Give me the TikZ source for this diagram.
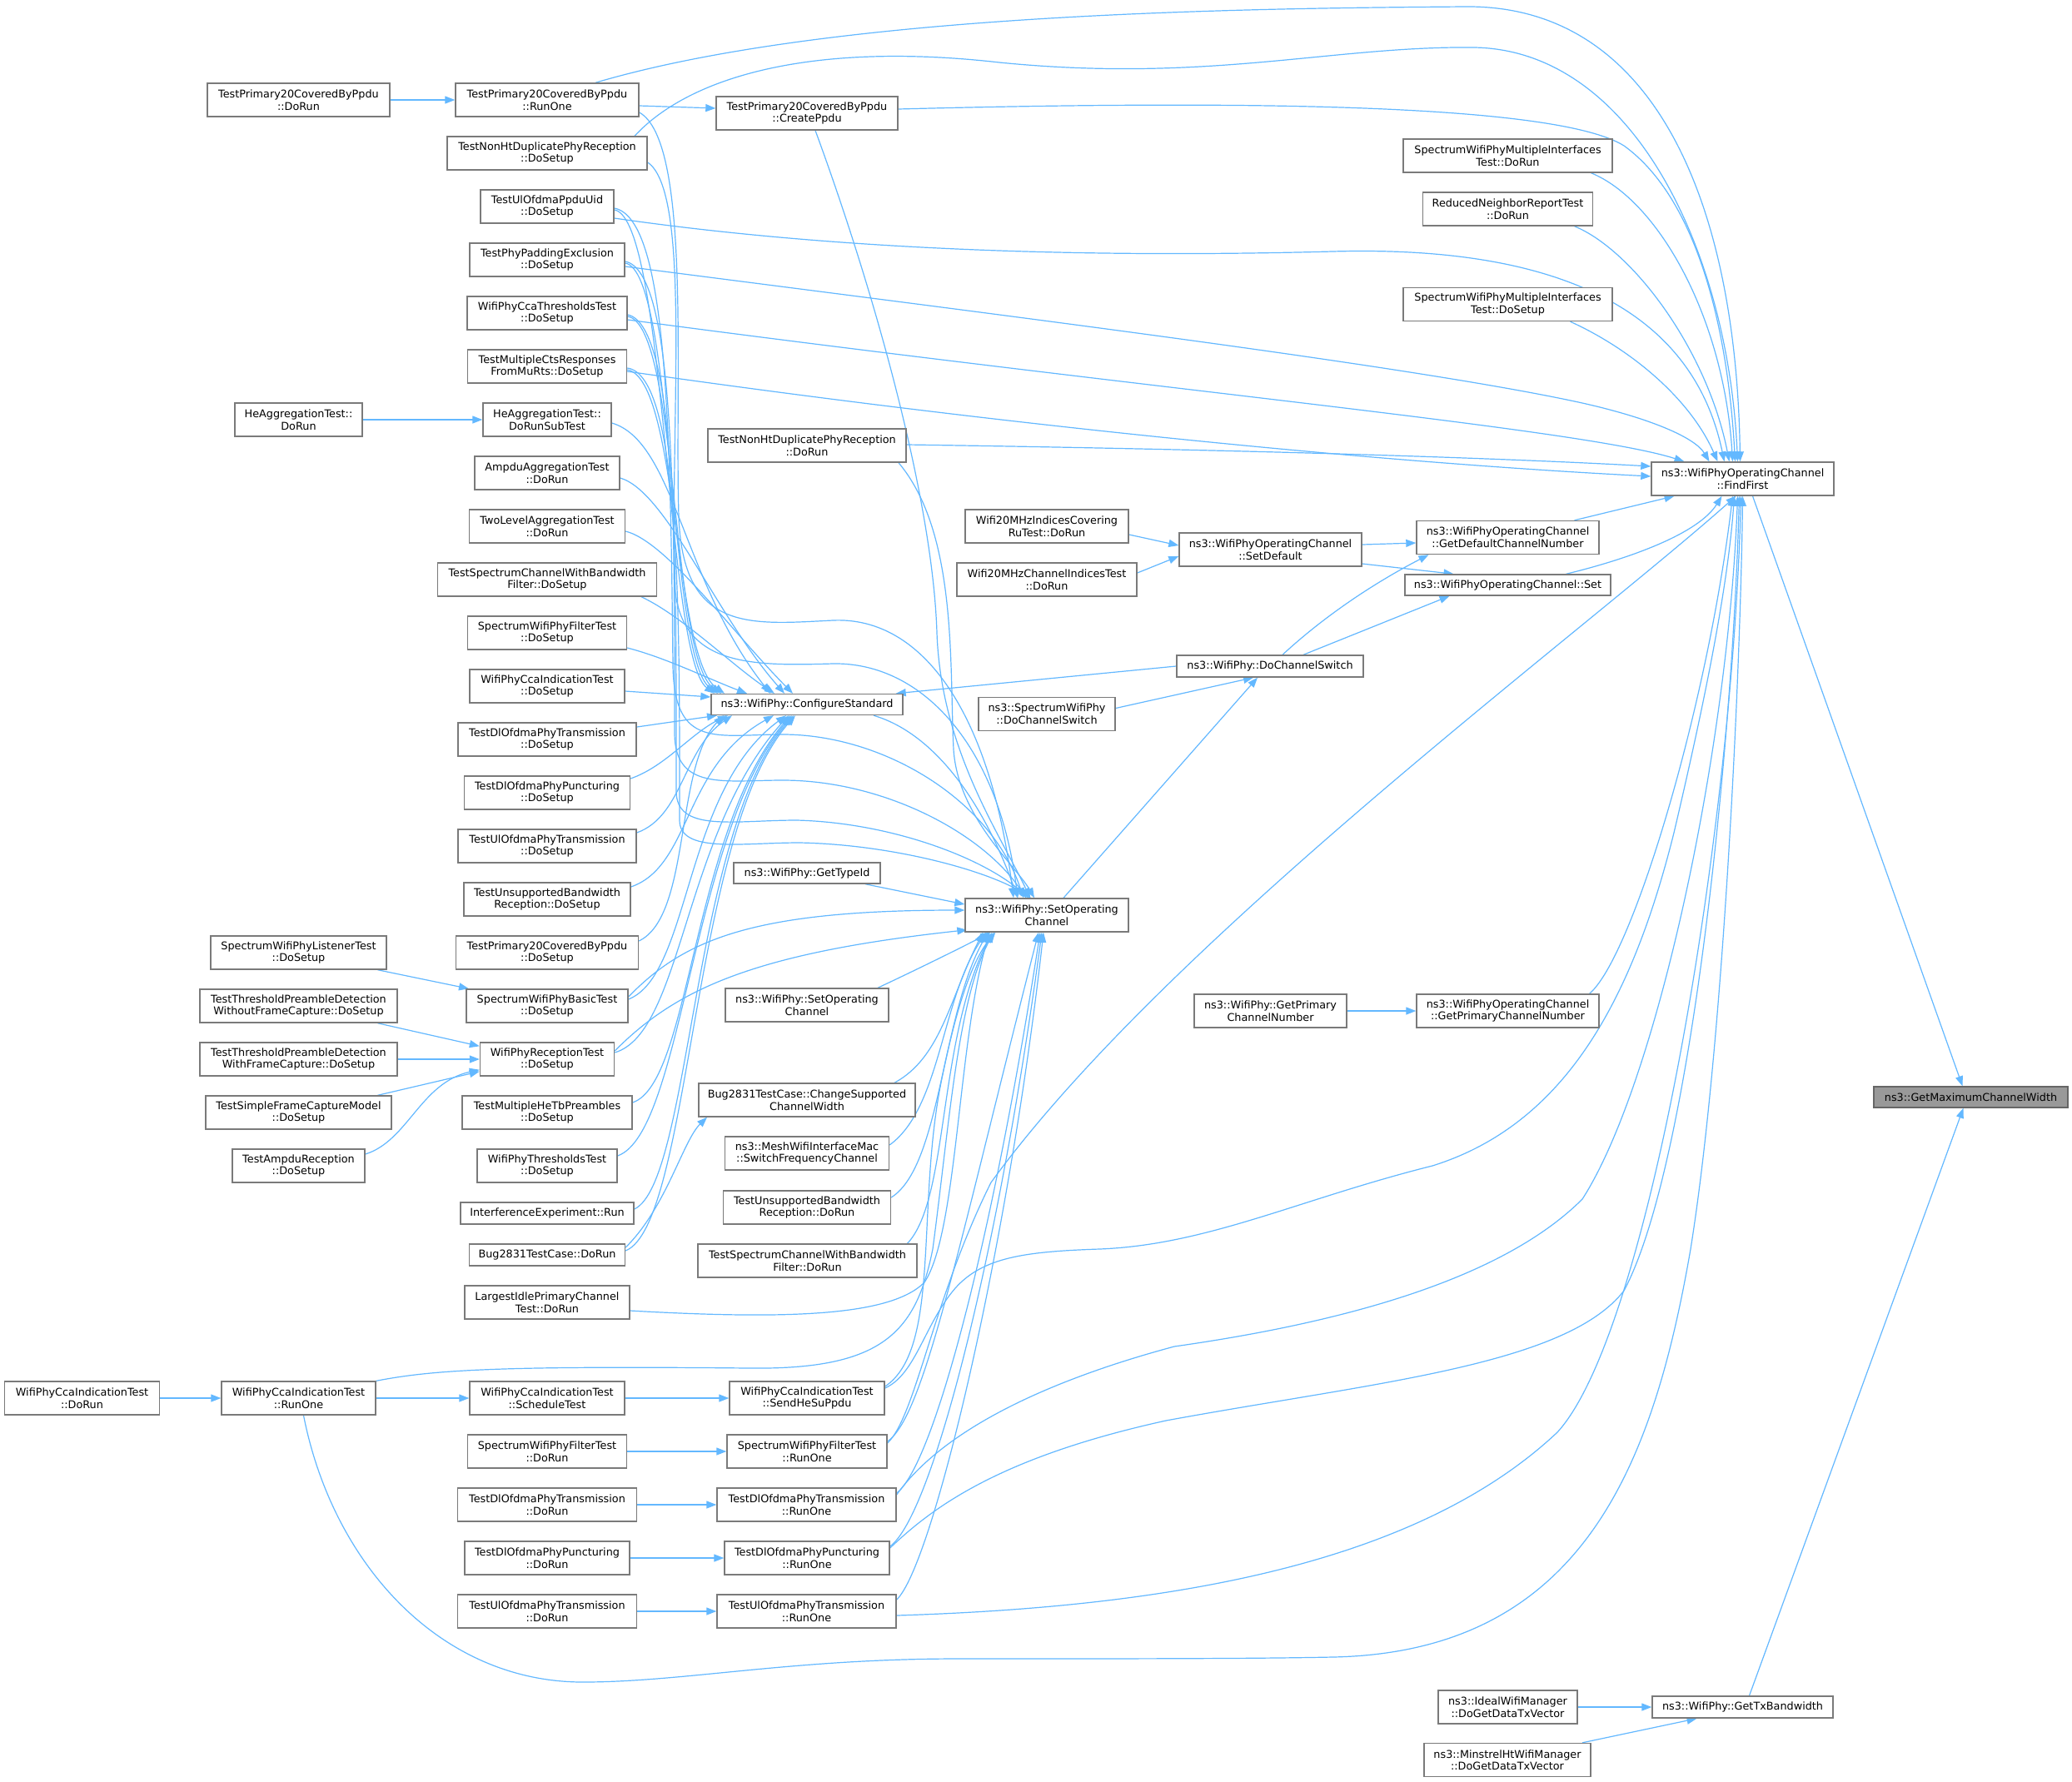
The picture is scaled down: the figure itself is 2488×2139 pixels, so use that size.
\documentclass[tikz,border=0pt]{standalone}
\usepackage{fontspec}
\setmainfont{DejaVu Sans}
\usetikzlibrary{arrows.meta,backgrounds}
\definecolor{edgec}{HTML}{63B8FF}
\definecolor{boxc}{HTML}{7A7A7A}
\definecolor{tgtfill}{HTML}{999999}
\definecolor{tgtdraw}{HTML}{666666}
\tikzset{
  box/.style={draw=boxc, fill=white, line width=1.4pt, inner sep=0pt, align=center,
    minimum height=40pt, font=\fontsize{12.8pt}{14.6pt}\selectfont},
  one/.style={minimum height=26pt},
  tgt/.style={fill=tgtfill, draw=tgtdraw},
  e/.style={draw=edgec, line width=1.2pt, -{Triangle[length=12pt,width=9pt]}}
}
\begin{document}
\begin{tikzpicture}[x=1pt,y=-1pt]
\useasboundingbox (0,0) rectangle (2488,2139);
% ---- column A / B
\node[box,minimum width=186pt] (ccaDoRun) at (98.5,1679) {WifiPhyCcaIndicationTest\\::DoRun};
\node[box,minimum width=219pt] (tp20DoRun) at (358.5,120) {TestPrimary20CoveredByPpdu\\::DoRun};
\node[box,minimum width=153pt] (heDoRun) at (358.5,504) {HeAggregationTest::\\DoRun};
\node[box,minimum width=211pt] (listener) at (358.5,1144) {SpectrumWifiPhyListenerTest\\::DoSetup};
\node[box,minimum width=237pt] (tpdWithout) at (358.5,1208) {TestThresholdPreambleDetection\\WithoutFrameCapture::DoSetup};
\node[box,minimum width=237pt] (tpdWith) at (358.5,1272) {TestThresholdPreambleDetection\\WithFrameCapture::DoSetup};
\node[box,minimum width=223pt] (simple) at (358.5,1336) {TestSimpleFrameCaptureModel\\::DoSetup};
\node[box,minimum width=159pt] (ampduRx) at (358.5,1400) {TestAmpduReception\\::DoSetup};
\node[box,minimum width=185pt] (ccaRunOne) at (358.5,1679) {WifiPhyCcaIndicationTest\\::RunOne};
% ---- column C
\node[box,minimum width=220pt] (tp20RunOne) at (657,120) {TestPrimary20CoveredByPpdu\\::RunOne};
\node[box,minimum width=240pt] (nonHtSetup) at (657,184) {TestNonHtDuplicatePhyReception\\::DoSetup};
\node[box,minimum width=160pt] (ulPpduUid) at (657,248) {TestUlOfdmaPpduUid\\::DoSetup};
\node[box,minimum width=186pt] (padding) at (657,312) {TestPhyPaddingExclusion\\::DoSetup};
\node[box,minimum width=192pt] (ccaThr) at (657,376) {WifiPhyCcaThresholdsTest\\::DoSetup};
\node[box,minimum width=191pt] (multiCts) at (657,440) {TestMultipleCtsResponses\\FromMuRts::DoSetup};
\node[box,minimum width=154pt] (heSub) at (657,504) {HeAggregationTest::\\DoRunSubTest};
\node[box,minimum width=174pt] (ampduAgg) at (657,568) {AmpduAggregationTest\\::DoRun};
\node[box,minimum width=187pt] (twoLevel) at (657,632) {TwoLevelAggregationTest\\::DoRun};
\node[box,minimum width=263pt] (specChSetup) at (657,696) {TestSpectrumChannelWithBandwidth\\Filter::DoSetup};
\node[box,minimum width=191pt] (filterSetup) at (657,760) {SpectrumWifiPhyFilterTest\\::DoSetup};
\node[box,minimum width=186pt] (ccaIndSetup) at (657,824) {WifiPhyCcaIndicationTest\\::DoSetup};
\node[box,minimum width=214pt] (dlTxSetup) at (657,888) {TestDlOfdmaPhyTransmission\\::DoSetup};
\node[box,minimum width=199pt] (dlPuncSetup) at (657,952) {TestDlOfdmaPhyPuncturing\\::DoSetup};
\node[box,minimum width=214pt] (ulTxSetup) at (657,1016) {TestUlOfdmaPhyTransmission\\::DoSetup};
\node[box,minimum width=200pt] (unsupSetup) at (657,1080) {TestUnsupportedBandwidth\\Reception::DoSetup};
\node[box,minimum width=219pt] (tp20Setup) at (657,1144) {TestPrimary20CoveredByPpdu\\::DoSetup};
\node[box,minimum width=194pt] (basic) at (657,1208) {SpectrumWifiPhyBasicTest\\::DoSetup};
\node[box,minimum width=161pt] (rxTest) at (657,1272) {WifiPhyReceptionTest\\::DoSetup};
\node[box,minimum width=204pt] (heTb) at (657,1336) {TestMultipleHeTbPreambles\\::DoSetup};
\node[box,minimum width=168pt] (thr) at (657,1400) {WifiPhyThresholdsTest\\::DoSetup};
\node[box,one,minimum width=208pt] (interf) at (657,1457) {InterferenceExperiment::Run};
\node[box,one,minimum width=187pt] (bugRun) at (657,1507) {Bug2831TestCase::DoRun};
\node[box,minimum width=198pt] (lipc) at (657,1564) {LargestIdlePrimaryChannel\\Test::DoRun};
\node[box,minimum width=186pt] (schedule) at (657,1679) {WifiPhyCcaIndicationTest\\::ScheduleTest};
\node[box,minimum width=191pt] (filterRun) at (657,1743) {SpectrumWifiPhyFilterTest\\::DoRun};
\node[box,minimum width=215pt] (dlTxRun) at (657,1807) {TestDlOfdmaPhyTransmission\\::DoRun};
\node[box,minimum width=198pt] (dlPuncRun) at (657,1871) {TestDlOfdmaPhyPuncturing\\::DoRun};
\node[box,minimum width=215pt] (ulTxRun) at (657,1935) {TestUlOfdmaPhyTransmission\\::DoRun};
% ---- column D
\node[box,minimum width=218pt] (createPpdu) at (969,136) {TestPrimary20CoveredByPpdu\\::CreatePpdu};
\node[box,minimum width=238pt] (nonHtRun) at (969,535) {TestNonHtDuplicatePhyReception\\::DoRun};
\node[box,minimum width=230pt,minimum height=25pt] (cs) at (969,846) {ns3::WifiPhy::ConfigureStandard};
\node[box,minimum width=176pt,minimum height=25pt] (getTypeId) at (969,1048.5) {ns3::WifiPhy::GetTypeId};
\node[box,minimum width=196pt] (setOp2) at (969,1207) {ns3::WifiPhy::SetOperating\\Channel};
\node[box,minimum width=260pt] (bugChange) at (969,1321) {Bug2831TestCase::ChangeSupported\\ChannelWidth};
\node[box,minimum width=197pt] (mesh) at (969,1385) {ns3::MeshWifiInterfaceMac\\::SwitchFrequencyChannel};
\node[box,minimum width=201pt] (unsupRun) at (969,1450) {TestUnsupportedBandwidth\\Reception::DoRun};
\node[box,minimum width=263pt] (specChRun) at (969.5,1514) {TestSpectrumChannelWithBandwidth\\Filter::DoRun};
\node[box,minimum width=186pt] (sendHe) at (969,1679) {WifiPhyCcaIndicationTest\\::SendHeSuPpdu};
\node[box,minimum width=192pt] (filterRunOne) at (969,1743) {SpectrumWifiPhyFilterTest\\::RunOne};
\node[box,minimum width=215pt] (dlTxRunOne) at (968.5,1807) {TestDlOfdmaPhyTransmission\\::RunOne};
\node[box,minimum width=198pt] (dlPuncRunOne) at (969,1871) {TestDlOfdmaPhyPuncturing\\::RunOne};
\node[box,minimum width=215pt] (ulTxRunOne) at (968.5,1935) {TestUlOfdmaPhyTransmission\\::RunOne};
% ---- column E
\node[box,minimum width=196pt] (wifi20Cov) at (1257,632) {Wifi20MHzIndicesCovering\\RuTest::DoRun};
\node[box,minimum width=216pt] (wifi20Ch) at (1257,696) {Wifi20MHzChannelIndicesTest\\::DoRun};
\node[box,minimum width=164pt] (specDCS) at (1257,857.5) {ns3::SpectrumWifiPhy\\::DoChannelSwitch};
\node[box,minimum width=196pt] (soc) at (1257,1099) {ns3::WifiPhy::SetOperating\\Channel};
% ---- column F
\node[box,minimum width=219pt] (setDefault) at (1525.5,660) {ns3::WifiPhyOperatingChannel\\::SetDefault};
\node[box,one,minimum width=224pt] (dcs) at (1525,800) {ns3::WifiPhy::DoChannelSwitch};
\node[box,minimum width=183pt] (getPrim) at (1525.5,1214) {ns3::WifiPhy::GetPrimary\\ChannelNumber};
% ---- column G
\node[box,minimum width=251pt] (smiDoRun) at (1810.5,187) {SpectrumWifiPhyMultipleInterfaces\\Test::DoRun};
\node[box,minimum width=204pt] (rnr) at (1810.5,251) {ReducedNeighborReportTest\\::DoRun};
\node[box,minimum width=251pt] (smiSetup) at (1810.5,365.5) {SpectrumWifiPhyMultipleInterfaces\\Test::DoSetup};
\node[box,minimum width=219pt] (gdcn) at (1810.5,645.5) {ns3::WifiPhyOperatingChannel\\::GetDefaultChannelNumber};
\node[box,minimum width=247pt,minimum height=25pt] (set) at (1810.5,702.5) {ns3::WifiPhyOperatingChannel::Set};
\node[box,minimum width=219pt] (gpcn) at (1810.5,1214) {ns3::WifiPhyOperatingChannel\\::GetPrimaryChannelNumber};
\node[box,minimum width=167pt] (idealWM) at (1810.5,2050) {ns3::IdealWifiManager\\::DoGetDataTxVector};
\node[box,minimum width=200pt] (minstrel) at (1810,2113.5) {ns3::MinstrelHtWifiManager\\::DoGetDataTxVector};
% ---- column H / I
\node[box,minimum width=219pt] (ff) at (2092.5,575) {ns3::WifiPhyOperatingChannel\\::FindFirst};
\node[box,one,minimum width=217pt] (gtb) at (2092.5,2050) {ns3::WifiPhy::GetTxBandwidth};
\node[box,tgt,minimum width=233pt,minimum height=25pt] (gmcw) at (2366.5,1317.5) {ns3::GetMaximumChannelWidth};

\begin{pgfonlayer}{background}
\fill[white] (0,0) rectangle (2488,2139);
% ===== edges into FindFirst
\draw[e] ([xshift=58pt]tp20RunOne.north) .. controls (1000,15) and (1500,10) .. (1760,8) .. controls (1990,6) and (2085,250) .. ([xshift=-3pt]ff.north);
\draw[e] ([xshift=105pt]nonHtSetup.north) .. controls (830,90) and (980,50) .. (1200,75) .. controls (1450,100) and (1600,55) .. (1770,57) .. controls (1960,60) and (2075,300) .. ([xshift=-6pt]ff.north);
\draw[e] ([yshift=5pt]createPpdu.east) .. controls (1500,120) and (1870,125) .. (1950,175) .. controls (2040,240) and (2075,400) .. ([xshift=-9pt]ff.north);
\draw[e] ([xshift=100pt]smiDoRun.south) .. controls (1990,240) and (2070,380) .. ([xshift=-12pt]ff.north);
\draw[e] ([xshift=80pt]rnr.south) .. controls (1960,300) and (2050,420) .. ([xshift=-16pt]ff.north);
\draw[e] ([yshift=-14pt]ulPpduUid.east) .. controls (1000,300) and (1300,310) .. (1600,302) .. controls (1850,295) and (2030,360) .. ([xshift=-22pt]ff.north);
\draw[e] ([xshift=75pt]smiSetup.south) .. controls (1960,420) and (2030,480) .. ([xshift=-30pt]ff.north);
\draw[e] ([yshift=-8pt]padding.east) .. controls (1200,378) and (1700,440) .. (1900,484) .. controls (1980,502) and (2035,525) .. ([xshift=-40pt]ff.north);
\draw[e] ([yshift=-8pt]ccaThr.east) .. controls (1400,470) and (1900,515) .. ([xshift=-70pt]ff.north);
\draw[e] ([yshift=-6pt]multiCts.east) .. controls (1200,510) and (1650,555) .. ([yshift=3pt]ff.west);
\draw[e] ([yshift=1pt]nonHtRun.east) .. controls (1500,540) and (1800,550) .. ([yshift=15pt]ff.west);
\draw[e] ([xshift=80pt]gdcn.north) -- ([xshift=-82pt]ff.south);
\draw[e] ([xshift=70pt]set.north) .. controls (1960,670) and (2040,640) .. ([xshift=-25pt]ff.south);
\draw[e] ([xshift=98pt]gpcn.north) .. controls (1960,1150) and (2050,850) .. ([xshift=-12pt]ff.south);
\draw[e] ([yshift=12pt]sendHe.east) .. controls (1100,1650) and (1110,1590) .. (1147,1547) .. controls (1180,1510) and (1230,1503) .. (1320,1500) .. controls (1450,1495) and (1560,1440) .. (1720,1400) .. controls (1880,1350) and (1960,1200) .. (2010,1000) .. controls (2050,830) and (2075,700) .. ([xshift=-10pt]ff.south);
\draw[e] ([yshift=10pt]filterRunOne.east) .. controls (1100,1700) and (1120,1560) .. (1190,1420) .. controls (1400,1130) and (1900,760) .. ([xshift=-8pt]ff.south);
\draw[e] ([yshift=12pt]dlTxRunOne.east) .. controls (1130,1720) and (1250,1660) .. (1410,1617) .. controls (1600,1590) and (1800,1540) .. (1900,1440) .. controls (1990,1300) and (2075,900) .. ([xshift=-6pt]ff.south);
\draw[e] ([yshift=12pt]dlPuncRunOne.east) .. controls (1120,1810) and (1200,1750) .. (1400,1706) .. controls (1650,1660) and (1880,1640) .. (1950,1550) .. controls (2030,1400) and (2080,900) .. ([xshift=-4pt]ff.south);
\draw[e] ([yshift=-5pt]ulTxRunOne.east) .. controls (1400,1930) and (1700,1880) .. (1870,1720) .. controls (1980,1600) and (2080,1000) .. ([xshift=-2pt]ff.south);
\draw[e] ([xshift=6pt]ccaRunOne.south) .. controls (400,1880) and (530,2020) .. (700,2020) .. controls (820,2020) and (950,1992) .. (1150,1992) .. controls (1350,1992) and (1500,1992) .. (1600,1990) .. controls (1900,1984) and (1985,1760) .. (2030,1500) .. controls (2070,1250) and (2090,800) .. (ff.south);
% ===== into GetMaximumChannelWidth / GetTxBandwidth
\draw[e] ([xshift=12pt]ff.south) -- ([xshift=-10pt]gmcw.north);
\draw[e] ([xshift=8pt]gtb.north) -- ([xshift=-9pt]gmcw.south);
\draw[e] (idealWM.east) -- (gtb.west);
\draw[e] ([xshift=90pt]minstrel.north) -- ([xshift=-55pt]gtb.south);
% ===== simple edges
\draw[e] (tp20DoRun.east) -- (tp20RunOne.west);
\draw[e] (heDoRun.east) -- (heSub.west);
\draw[e] (ccaDoRun.east) -- (ccaRunOne.west);
\draw[e] (ccaRunOne.east) -- (schedule.west);
\draw[e] (schedule.east) -- (sendHe.west);
\draw[e] (filterRun.east) -- (filterRunOne.west);
\draw[e] (dlTxRun.east) -- (dlTxRunOne.west);
\draw[e] (dlPuncRun.east) -- (dlPuncRunOne.west);
\draw[e] (ulTxRun.east) -- (ulTxRunOne.west);
\draw[e] ([xshift=95pt]listener.south) -- ([xshift=-94pt]basic.north);
\draw[e] ([xshift=95pt]tpdWithout.south) -- ([yshift=-5pt]rxTest.north west);
\draw[e] (tpdWith.east) -- (rxTest.west);
\draw[e] ([xshift=95pt]simple.north) -- ([yshift=6pt]rxTest.south west);
\draw[e] ([yshift=14pt]ampduRx.east) .. controls (490,1370) and (505,1300) .. ([yshift=8pt]rxTest.south west);
\draw[e] ([yshift=-7pt]tp20RunOne.east) -- ([yshift=6pt]createPpdu.west);
\draw[e] ([yshift=-10pt]wifi20Cov.east) -- ([yshift=5pt]setDefault.west);
\draw[e] ([yshift=8pt]wifi20Ch.east) -- ([yshift=-8pt]setDefault.west);
\draw[e] ([yshift=6pt]setDefault.east) -- ([yshift=-6.5pt]gdcn.west);
\draw[e] ([yshift=-17pt]setDefault.east) -- ([xshift=-65pt]set.north);
\draw[e] ([xshift=15pt]dcs.north) .. controls (1590,740) and (1650,700) .. ([xshift=-95pt]gdcn.south);
\draw[e] ([xshift=40pt]dcs.north) -- ([xshift=-70pt]set.south);
\draw[e] ([yshift=7pt]specDCS.east) -- ([xshift=-20pt]dcs.south);
\draw[e] (dcs.west) -- ([xshift=-9pt]cs.north east);
\draw[e] ([xshift=20pt]soc.north) -- ([xshift=-15pt]dcs.south);
\draw[e] (getPrim.east) -- (gpcn.west);
\draw[e] ([xshift=70pt]getTypeId.south) -- ([yshift=13pt]soc.west);
\draw[e] ([xshift=80pt]cs.south) .. controls (1120,880) and (1180,960) .. ([xshift=-35pt]soc.north);
% ===== into ConfigureStandard
\draw[e] ([yshift=-4pt]ulPpduUid.east) .. controls (800,262) and (800,790) .. ([xshift=-111pt]cs.north);
\draw[e] ([yshift=-4pt]padding.east) .. controls (810,325) and (802,790) .. ([xshift=-107pt]cs.north);
\draw[e] ([yshift=-4pt]ccaThr.east) .. controls (815,390) and (805,790) .. ([xshift=-103pt]cs.north);
\draw[e] ([yshift=-4pt]multiCts.east) .. controls (815,455) and (808,790) .. ([xshift=-99pt]cs.north);
\draw[e] ([yshift=-4pt]heSub.east) .. controls (810,530) and (820,700) .. ([xshift=-44pt]cs.north);
\draw[e] ([yshift=-6pt]ampduAgg.east) .. controls (800,590) and (860,740) .. ([xshift=-27pt]cs.north);
\draw[e] ([yshift=-6pt]twoLevel.east) .. controls (800,650) and (880,760) .. ([xshift=-17pt]cs.north);
\draw[e] ([xshift=113pt]specChSetup.south) .. controls (820,740) and (880,800) .. ([xshift=-39pt]cs.north);
\draw[e] ([yshift=-18pt]filterSetup.east) .. controls (800,790) and (850,815) .. ([xshift=-72pt]cs.north);
\draw[e] ([yshift=-6pt]ccaIndSetup.east) -- ([yshift=9pt]cs.west);
\draw[e] ([yshift=15pt]dlTxSetup.east) -- ([xshift=-108pt]cs.south);
\draw[e] ([yshift=17pt]dlPuncSetup.east) .. controls (800,920) and (830,880) .. ([xshift=-95pt]cs.south);
\draw[e] ([yshift=16pt]ulTxSetup.east) .. controls (820,980) and (820,900) .. ([xshift=-90pt]cs.south);
\draw[e] ([yshift=15pt]unsupSetup.east) .. controls (830,1040) and (820,920) .. ([xshift=-40pt]cs.south);
\draw[e] ([yshift=14pt]tp20Setup.east) .. controls (830,1100) and (810,920) .. ([xshift=-100pt]cs.south);
\draw[e] ([yshift=8pt]basic.east) .. controls (830,1170) and (820,950) .. ([xshift=-25pt]cs.south);
\draw[e] ([yshift=8pt]rxTest.east) .. controls (820,1240) and (820,1000) .. ([xshift=-22pt]cs.south);
\draw[e] ([yshift=12pt]heTb.east) .. controls (830,1300) and (830,1000) .. ([xshift=-20pt]cs.south);
\draw[e] ([yshift=12pt]thr.east) .. controls (820,1360) and (830,1000) .. ([xshift=-18pt]cs.south);
\draw[e] ([yshift=5pt]interf.east) .. controls (830,1420) and (830,1000) .. ([xshift=-16pt]cs.south);
\draw[e] ([yshift=5pt]bugRun.east) .. controls (830,1470) and (830,1000) .. ([xshift=-14pt]cs.south);
% ===== into SetOperatingChannel
\draw[e] ([yshift=-15pt]tp20RunOne.east) .. controls (830,170) and (810,450) .. (815,620) .. controls (820,760) and (900,750) .. (1000,745) .. controls (1110,740) and (1190,860) .. ([xshift=-40pt]soc.north);
\draw[e] ([yshift=-11pt]nonHtSetup.east) .. controls (830,230) and (805,500) .. (810,700) .. controls (815,800) and (900,800) .. (1000,797) .. controls (1110,795) and (1200,900) .. ([xshift=-35pt]soc.north);
\draw[e] ([yshift=-2pt]ulPpduUid.east) .. controls (800,262) and (805,500) .. (808,800) .. controls (810,900) and (860,882) .. (940,882) .. controls (1060,882) and (1190,960) .. ([xshift=-28pt]soc.north);
\draw[e] ([yshift=-2pt]padding.east) .. controls (810,325) and (810,600) .. (810,880) .. controls (810,950) and (870,937) .. (940,937) .. controls (1060,937) and (1180,1000) .. ([xshift=-25pt]soc.north);
\draw[e] ([yshift=-2pt]ccaThr.east) .. controls (815,390) and (812,700) .. (812,950) .. controls (812,1000) and (880,985) .. (957,985) .. controls (1070,988) and (1180,1030) .. ([xshift=-22pt]soc.north);
\draw[e] ([yshift=-2pt]multiCts.east) .. controls (818,450) and (816,750) .. (816,985) .. controls (816,1025) and (890,1012) .. (960,1012) .. controls (1070,1014) and (1185,1045) .. ([xshift=-19pt]soc.north);
\draw[e] ([yshift=11pt]basic.east) .. controls (820,1130) and (900,1093) .. ([yshift=6pt]soc.west);
\draw[e] ([yshift=10pt]rxTest.east) .. controls (810,1190) and (900,1145) .. ([xshift=3pt,yshift=3pt]soc.south west);
\draw[e] ([yshift=-10pt]lipc.east) .. controls (950,1585) and (1070,1580) .. (1110,1540) .. controls (1150,1480) and (1150,1250) .. ([xshift=30pt]soc.south west);
\draw[e] (ccaRunOne.north east) .. controls (520,1645) and (600,1640) .. (900,1643) .. controls (1060,1645) and (1100,1600) .. (1120,1500) .. controls (1140,1350) and (1150,1200) .. ([xshift=35pt]soc.south west);
\draw[e] ([xshift=85pt]setOp2.north) .. controls (1110,1160) and (1160,1135) .. ([xshift=31pt]soc.south west);
\draw[e] ([xshift=105pt]bugChange.north) .. controls (1130,1270) and (1140,1200) .. ([xshift=22pt]soc.south west);
\draw[e] ([yshift=10pt]mesh.east) .. controls (1130,1330) and (1130,1200) .. ([xshift=26pt]soc.south west);
\draw[e] ([yshift=12pt]unsupRun.east) .. controls (1130,1400) and (1130,1220) .. ([xshift=28pt]soc.south west);
\draw[e] ([xshift=120pt]specChRun.north) .. controls (1140,1440) and (1125,1250) .. ([xshift=33pt]soc.south west);
\draw[e] ([yshift=14pt]sendHe.east) .. controls (1130,1620) and (1100,1450) .. (1130,1300) .. controls (1150,1200) and (1170,1150) .. ([xshift=37pt]soc.south west);
\draw[e] ([yshift=12pt]filterRunOne.east) .. controls (1110,1700) and (1150,1500) .. ([xshift=-10pt]soc.south);
\draw[e] ([yshift=14pt]dlTxRunOne.east) .. controls (1120,1760) and (1190,1500) .. ([xshift=-8pt]soc.south);
\draw[e] ([yshift=14pt]dlPuncRunOne.east) .. controls (1120,1820) and (1200,1500) .. ([xshift=-6pt]soc.south);
\draw[e] ([yshift=14pt]ulTxRunOne.east) .. controls (1120,1880) and (1210,1500) .. ([xshift=-4pt]soc.south);
\draw[e] ([xshift=10pt]createPpdu.south) .. controls (1050,350) and (1120,600) .. (1125,760) .. controls (1130,900) and (1200,1000) .. ([xshift=-20pt]soc.north);
\draw[e] ([xshift=110pt]nonHtRun.south) .. controls (1150,640) and (1140,800) .. (1145,900) .. controls (1150,980) and (1220,1040) .. ([xshift=-15pt]soc.north);
\draw[e] ([yshift=9pt]bugRun.east) .. controls (800,1450) and (820,1370) .. ([xshift=-120pt]bugChange.south);
\end{pgfonlayer}
\end{tikzpicture}
\end{document}
